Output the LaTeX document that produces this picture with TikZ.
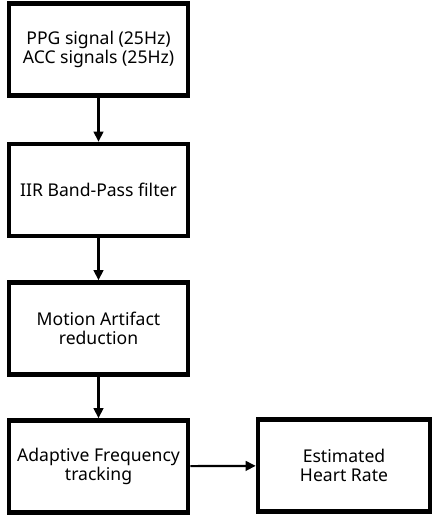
\documentclass[tikz,border=0pt]{standalone}
\usepackage{fontspec}
\setmainfont{Noto Sans}
\usetikzlibrary{arrows.meta}

\begin{document}
\begin{tikzpicture}[
        x=0.025cm, y=-0.025cm,
        block/.style={draw, line width=0.115cm, inner sep=0pt, align=center,
            minimum width=4.475cm, minimum height=2.3cm,
            font=\fontsize{12.5}{14}\selectfont},
        flow/.style={-{Triangle[length=0.25cm, width=0.24cm]}, line width=0.055cm}
    ]
        \useasboundingbox (0,0) rectangle (433,517);

        % Processing chain, top to bottom
        \node[block] (input) at (98.5, 49.5) {PPG signal (25Hz)\\ACC signals (25Hz)};
        \node[block] (bpf) at (98.5, 190) {IIR Band-Pass filter};
        \node[block] (mar) at (98.5, 328.5) {Motion Artifact\\reduction};
        \node[block] (aft) at (98.5, 466.5) {Adaptive Frequency\\tracking};

        % Output block to the right
        \node[block, minimum width=4.3cm] (hr) at (344, 465.5) {Estimated\\Heart Rate};

        % Arrows between the stages
        \draw[flow] (input) -- (bpf);
        \draw[flow] (bpf) -- (mar);
        \draw[flow] (mar) -- (aft);
        \draw[flow] (aft) -- (hr);
    \end{tikzpicture}
\end{document}
